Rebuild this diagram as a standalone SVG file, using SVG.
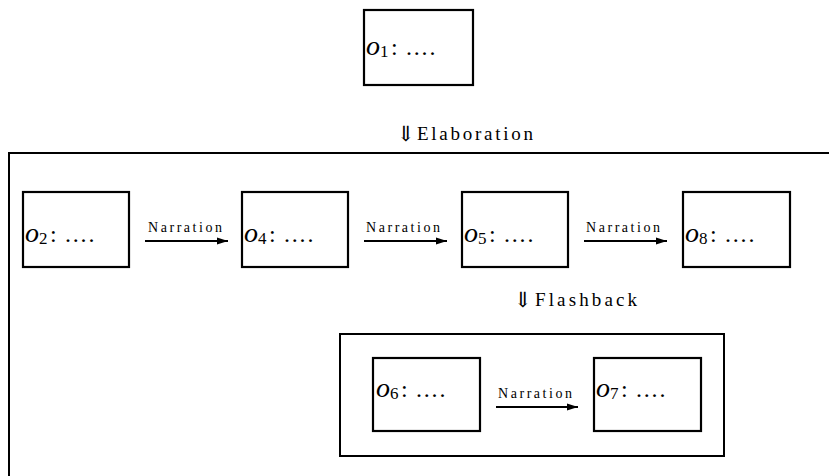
<svg xmlns="http://www.w3.org/2000/svg" width="829" height="476" viewBox="0 0 829 476">
<defs>
<marker id="ah" markerUnits="userSpaceOnUse" markerWidth="12" markerHeight="8" refX="11" refY="4" orient="auto">
<path d="M0,0.5 L11,4 L0,7.5 Z" fill="#000"/>
</marker>
<style>
.box{fill:#fff;stroke:#000;stroke-width:2.2}
.frame{fill:none;stroke:#000;stroke-width:2}
.m{font-family:"Liberation Serif",serif;font-style:italic;font-size:28px}
.s{font-family:"Liberation Serif",serif;font-size:17px}
.t{font-family:"Liberation Serif",serif;font-size:24px}
.d{font-family:"Liberation Serif",serif;font-size:24px;letter-spacing:1.8px}
.lbl{font-family:"Liberation Serif",serif;font-size:14px}
.rel{font-family:"Liberation Serif",serif;font-size:19px}
.arr{font-family:"DejaVu Serif","DejaVu Sans",serif;font-size:21px;fill:#000}
.conn{stroke:#000;stroke-width:2.2;fill:none;marker-end:url(#ah)}
</style>
</defs>
<rect width="829" height="476" fill="#fff"/>

<g id="frame-elaboration">
<path class="frame" d="M830,153 H9 V477"/>
</g>
<g id="frame-flashback">
<rect class="frame" x="340" y="334" width="384" height="122"/>
</g>

<g id="o1">
<rect class="box" x="364" y="10" width="109" height="75"/>
<text y="55"><tspan class="m" x="366">o</tspan><tspan class="s" dy="2">1</tspan><tspan class="t" x="391" dy="-2">:</tspan><tspan class="d" x="406">....</tspan></text>
</g>

<g id="label-elaboration">
<text class="arr" x="397" y="141">⇓</text>
<text class="rel" x="417" y="140" textLength="116" lengthAdjust="spacing">Elaboration</text>
</g>

<g id="o2">
<rect class="box" x="23" y="192" width="106" height="75"/>
<text y="242"><tspan class="m" x="25">o</tspan><tspan class="s" dy="2">2</tspan><tspan class="t" x="50" dy="-2">:</tspan><tspan class="d" x="65">....</tspan></text>
</g>
<g id="o4">
<rect class="box" x="242" y="192" width="106" height="75"/>
<text y="242"><tspan class="m" x="244">o</tspan><tspan class="s" dy="2">4</tspan><tspan class="t" x="269" dy="-2">:</tspan><tspan class="d" x="284">....</tspan></text>
</g>
<g id="o5">
<rect class="box" x="462" y="192" width="106" height="75"/>
<text y="242"><tspan class="m" x="464">o</tspan><tspan class="s" dy="2">5</tspan><tspan class="t" x="489" dy="-2">:</tspan><tspan class="d" x="504">....</tspan></text>
</g>
<g id="o8">
<rect class="box" x="683" y="192" width="107" height="75"/>
<text y="242"><tspan class="m" x="685">o</tspan><tspan class="s" dy="2">8</tspan><tspan class="t" x="710" dy="-2">:</tspan><tspan class="d" x="725">....</tspan></text>
</g>

<g id="label-flashback">
<text class="arr" x="514" y="307">⇓</text>
<text class="rel" x="535" y="306" textLength="102" lengthAdjust="spacing">Flashback</text>
</g>

<g id="o6">
<rect class="box" x="373" y="358" width="107" height="73"/>
<text y="397"><tspan class="m" x="376">o</tspan><tspan class="s" dy="2">6</tspan><tspan class="t" x="401" dy="-2">:</tspan><tspan class="d" x="416">....</tspan></text>
</g>
<g id="o7">
<rect class="box" x="594" y="358" width="107" height="73"/>
<text y="397"><tspan class="m" x="596">o</tspan><tspan class="s" dy="2">7</tspan><tspan class="t" x="621" dy="-2">:</tspan><tspan class="d" x="636">....</tspan></text>
</g>

<g id="connectors">
<line class="conn" x1="145" y1="241" x2="228" y2="241"/>
<text class="lbl" x="148" y="232" textLength="74" lengthAdjust="spacing">Narration</text>
<line class="conn" x1="364" y1="241" x2="447" y2="241"/>
<text class="lbl" x="366" y="232" textLength="74" lengthAdjust="spacing">Narration</text>
<line class="conn" x1="584" y1="241" x2="667" y2="241"/>
<text class="lbl" x="586" y="232" textLength="74" lengthAdjust="spacing">Narration</text>
<line class="conn" x1="496" y1="407" x2="578" y2="407"/>
<text class="lbl" x="498" y="398" textLength="74" lengthAdjust="spacing">Narration</text>
</g>
</svg>
